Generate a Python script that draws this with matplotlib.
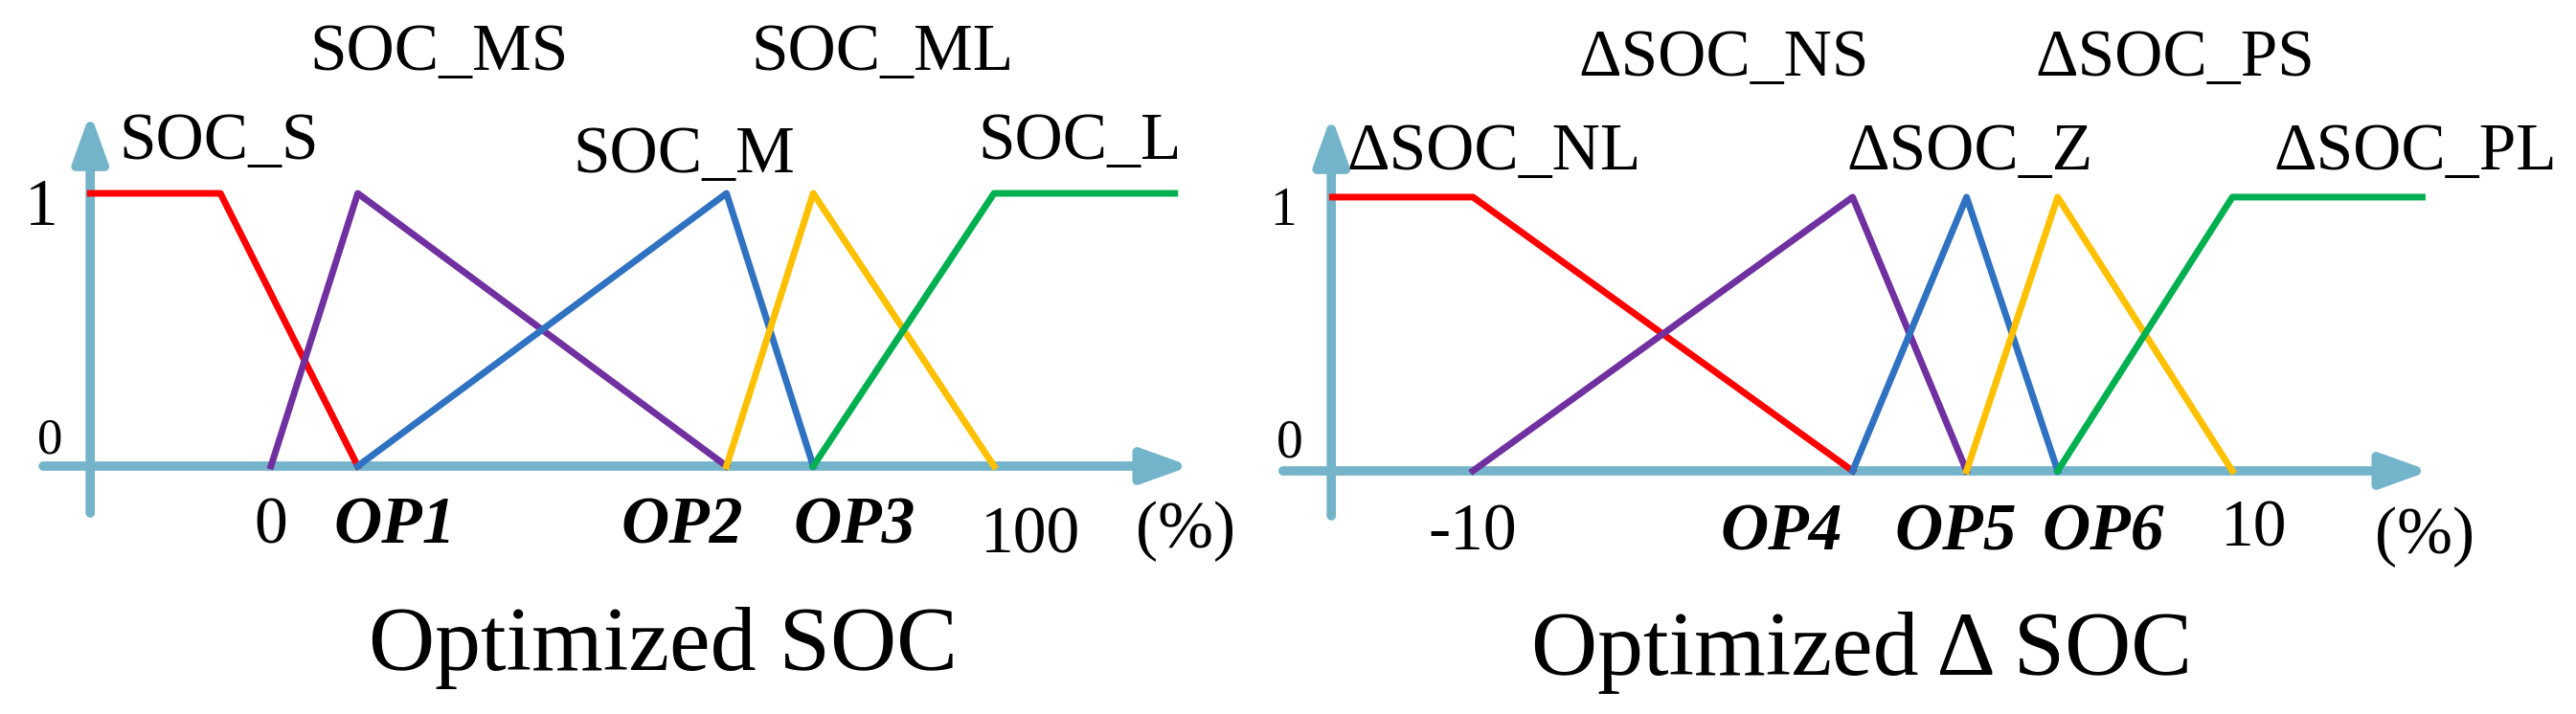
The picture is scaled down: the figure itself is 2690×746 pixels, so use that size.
import matplotlib
matplotlib.use("Agg")
import matplotlib.pyplot as plt

plt.rcParams['font.family'] = ['Liberation Serif', 'DejaVu Serif']

# membership functions, optimized SOC (x in %)
soc_s_x = [-25, -7, 12]
soc_s_y = [1, 1, 0]
soc_ms_x = [0, 12, 63]
soc_ms_y = [0, 1, 0]
soc_m_x = [12, 63, 75]
soc_m_y = [0, 1, 0]
soc_ml_x = [63, 75, 100]
soc_ml_y = [0, 1, 0]
soc_l_x = [75, 100, 125]
soc_l_y = [0, 1, 1]
soc_names = ["SOC_S", "SOC_MS", "SOC_M", "SOC_ML", "SOC_L"]
soc_ticks = ["0", "OP1", "OP2", "OP3", "100"]

# membership functions, optimized delta SOC
dsoc_nl_x = [-13.7, -10, 0]
dsoc_nl_y = [1, 1, 0]
dsoc_ns_x = [-10, 0, 3]
dsoc_ns_y = [0, 1, 0]
dsoc_z_x = [0, 3, 5.4]
dsoc_z_y = [0, 1, 0]
dsoc_ps_x = [3, 5.4, 10]
dsoc_ps_y = [0, 1, 0]
dsoc_pl_x = [5.4, 10, 15]
dsoc_pl_y = [0, 1, 1]
dsoc_names = ["\u0394SOC_NL", "\u0394SOC_NS", "\u0394SOC_Z", "\u0394SOC_PS", "\u0394SOC_PL"]
dsoc_ticks = ["-10", "OP4", "OP5", "OP6", "10"]

colors = ["#FF0000", "#7030A0", "#2F72C2", "#FFC000", "#00B050"]
axis_c = "#74B4CA"

fig = plt.figure(figsize=(26.9, 7.46), dpi=100)
ax1 = fig.add_axes([0, 0, 0.5, 1])
ax2 = fig.add_axes([0.5, 0, 0.5, 1])
ax1.set_xlim(-37.48, 140.66)
ax1.set_ylim(-0.909, 1.709)
ax2.set_xlim(-14.87, 19.05)
ax2.set_ylim(-0.888, 1.720)


def draw_axes(ax, x0, x1, xv, y0, y1):
    arrow = dict(arrowstyle="-|>,head_length=1.0,head_width=0.36", mutation_scale=30,
                 color=axis_c, lw=7, shrinkA=0, shrinkB=0)
    ax.annotate("", xy=(x1, 0), xytext=(x0, 0), arrowprops=arrow, annotation_clip=False)
    ax.annotate("", xy=(xv, y1), xytext=(xv, y0), arrowprops=arrow, annotation_clip=False)


draw_axes(ax1, -31.5, 127.2, -25.0, -0.172, 1.295)
draw_axes(ax2, -15.0, 15.2, -13.73, -0.164, 1.297)

soc_lines = [(soc_s_x, soc_s_y), (soc_ms_x, soc_ms_y), (soc_m_x, soc_m_y),
             (soc_ml_x, soc_ml_y), (soc_l_x, soc_l_y)]
dsoc_lines = [(dsoc_nl_x, dsoc_nl_y), (dsoc_ns_x, dsoc_ns_y), (dsoc_z_x, dsoc_z_y),
              (dsoc_ps_x, dsoc_ps_y), (dsoc_pl_x, dsoc_pl_y)]
for (x, y), c in zip(soc_lines, colors):
    ax1.plot(x, y, color=c, lw=5, clip_on=False, zorder=3)
for (x, y), c in zip(dsoc_lines, colors):
    ax2.plot(x, y, color=c, lw=5, clip_on=False, zorder=3)

# curve names
soc_name_pos = [(-7.2, 1.126), (23.3, 1.453), (57.1, 1.077), (84.6, 1.453), (111.9, 1.126)]
for name, (x, y) in zip(soc_names, soc_name_pos):
    ax1.text(x, y, name, fontsize=50, ha="center", va="baseline")
dsoc_name_pos = [(-9.45, 1.101), (-3.39, 1.444), (3.09, 1.101), (8.49, 1.444), (14.82, 1.101)]
for name, (x, y) in zip(dsoc_names, dsoc_name_pos):
    ax2.text(x, y, name, fontsize=50, ha="center", va="baseline")

# tick labels
soc_tick_pos = [(0, -0.284), (17.1, -0.284), (56.8, -0.284), (80.7, -0.284), (105.0, -0.319)]
for lab, (x, y) in zip(soc_ticks, soc_tick_pos):
    bold = lab.startswith("OP")
    ax1.text(x, y, lab, fontsize=50, ha="center", va="baseline",
             fontweight="bold" if bold else "normal", fontstyle="italic" if bold else "normal")
dsoc_tick_pos = [(-10, -0.287), (-1.88, -0.287), (2.71, -0.287), (6.60, -0.287), (10.56, -0.276)]
for lab, (x, y) in zip(dsoc_ticks, dsoc_tick_pos):
    bold = lab.startswith("OP")
    ax2.text(x, y, lab, fontsize=50, ha="center", va="baseline",
             fontweight="bold" if bold else "normal", fontstyle="italic" if bold else "normal")

ax1.text(126.5, -0.298, "(%)", fontsize=50, ha="center", va="baseline")
ax2.text(15.07, -0.301, "(%)", fontsize=50, ha="center", va="baseline")

# membership degree marks
ax1.text(-31.8, 0.884, "1", fontsize=50, ha="center", va="baseline")
ax1.text(-30.6, 0.049, "0", fontsize=38, ha="center", va="baseline")
ax2.text(-14.99, 0.899, "1", fontsize=40, ha="center", va="baseline")
ax2.text(-14.82, 0.049, "0", fontsize=40, ha="center", va="baseline")

# panel titles
ax1.text(54.2, -0.747, "Optimized SOC", fontsize=69, ha="center", va="baseline")
ax2.text(0.24, -0.745, "Optimized \u0394 SOC", fontsize=69, ha="center", va="baseline")

ax1.axis("off")
ax2.axis("off")
fig.savefig("out.png", dpi=100)
